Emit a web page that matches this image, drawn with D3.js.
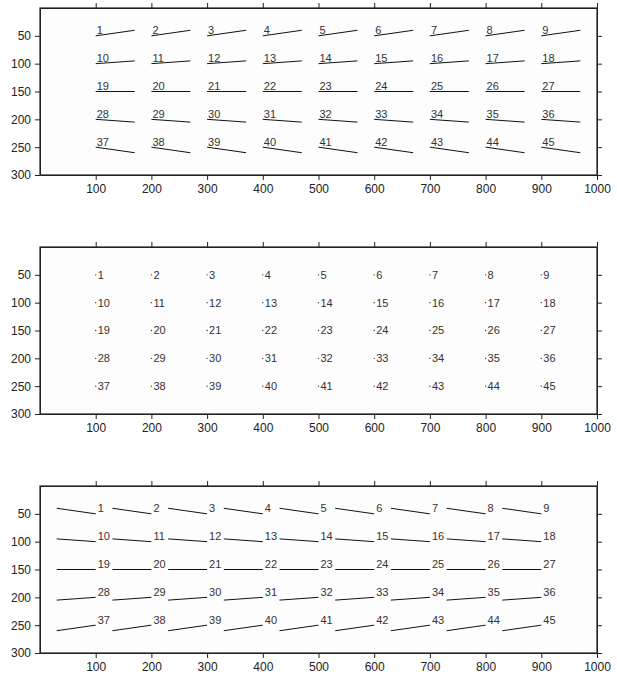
<!DOCTYPE html>
<html>
<head>
<meta charset="utf-8">
<script src="https://cdn.jsdelivr.net/npm/d3@7"></script>
<style>
  body { margin: 0; background: #fff; }
  svg { display: block; font-family: "Liberation Sans", Arial, Helvetica, sans-serif; }
  .axis text { font-size: 12px; fill: #222; }
  .axis path, .axis line { stroke: #222; }
  .lbl { font-size: 11px; fill: #333; }
</style>
</head>
<body>
<script>
// grid of label anchors (data units)
var colX = [100, 200, 300, 400, 500, 600, 700, 800, 900];
var rowY = [50, 100, 150, 200, 250];
var labels = [
  "1","2","3","4","5","6","7","8","9",
  "10","11","12","13","14","15","16","17","18",
  "19","20","21","22","23","24","25","26","27",
  "28","29","30","31","32","33","34","35","36",
  "37","38","39","40","41","42","43","44","45"
];
// leader line offset per row (data units)
var rowDy = [-10, -5, 0, 5, 10];
var leaderDx = 70;

var xTicks = [100, 200, 300, 400, 500, 600, 700, 800, 900, 1000];
var yTicks = [50, 100, 150, 200, 250, 300];

var W = 617, H = 677;
var left = 40, plotW = 557, plotH = 167;
var panelTops = [8, 247, 486];

var svg = d3.select("body").append("svg")
    .attr("width", W)
    .attr("height", H);

var x = d3.scaleLinear().domain([0, 1000]).range([0, plotW]);
var y = d3.scaleLinear().domain([0, 300]).range([0, plotH]);

var points = [];
rowY.forEach(function(ry, i) {
  colX.forEach(function(cx, j) {
    points.push({x: cx, y: ry, dy: rowDy[i], label: labels[i * colX.length + j]});
  });
});

function drawPanel(top, mode) {
  var g = svg.append("g")
      .attr("transform", "translate(" + left + "," + top + ")");

  g.append("rect")
      .attr("width", plotW)
      .attr("height", plotH)
      .attr("fill", "#fdfdfd");

  g.append("g").attr("class", "axis")
      .attr("transform", "translate(0," + plotH + ")")
      .call(d3.axisBottom(x).tickValues(xTicks).tickSize(5).tickPadding(4).tickSizeOuter(0).tickFormat(d3.format("d")));
  g.append("g").attr("class", "axis")
      .call(d3.axisTop(x).tickValues(xTicks).tickSize(5).tickSizeOuter(0).tickFormat(""));
  g.append("g").attr("class", "axis")
      .call(d3.axisLeft(y).tickValues(yTicks).tickSize(5).tickPadding(4).tickSizeOuter(0));
  g.append("g").attr("class", "axis")
      .attr("transform", "translate(" + plotW + ",0)")
      .call(d3.axisRight(y).tickValues(yTicks).tickSize(5).tickSizeOuter(0).tickFormat(""));

  g.append("rect")
      .attr("width", plotW)
      .attr("height", plotH)
      .attr("fill", "none")
      .attr("stroke", "#222")
      .attr("stroke-width", 1.2);

  var pts = g.selectAll(".pt")
      .data(points)
    .enter().append("g")
      .attr("class", "pt");

  if (mode === "right") {
    pts.append("line")
        .attr("x1", function(d) { return x(d.x); })
        .attr("y1", function(d) { return y(d.y); })
        .attr("x2", function(d) { return x(d.x + leaderDx); })
        .attr("y2", function(d) { return y(d.y + d.dy); })
        .attr("stroke", "#111");
    pts.append("text")
        .attr("class", "lbl")
        .attr("x", function(d) { return x(d.x) + 1; })
        .attr("y", function(d) { return y(d.y) - 1.5; })
        .text(function(d) { return d.label; });
  } else if (mode === "dot") {
    pts.append("circle")
        .attr("cx", function(d) { return x(d.x); })
        .attr("cy", function(d) { return y(d.y); })
        .attr("r", 0.7)
        .attr("fill", "#333");
    pts.append("text")
        .attr("class", "lbl")
        .attr("x", function(d) { return x(d.x) + 2; })
        .attr("y", function(d) { return y(d.y); })
        .attr("dy", "0.35em")
        .text(function(d) { return d.label; });
  } else {
    pts.append("line")
        .attr("x1", function(d) { return x(d.x - leaderDx); })
        .attr("y1", function(d) { return y(d.y + d.dy); })
        .attr("x2", function(d) { return x(d.x); })
        .attr("y2", function(d) { return y(d.y); })
        .attr("stroke", "#111");
    pts.append("text")
        .attr("class", "lbl")
        .attr("x", function(d) { return x(d.x) + 2; })
        .attr("y", function(d) { return y(d.y) - 1.5; })
        .text(function(d) { return d.label; });
  }
}

drawPanel(panelTops[0], "right");
drawPanel(panelTops[1], "dot");
drawPanel(panelTops[2], "left");
</script>
</body>
</html>
